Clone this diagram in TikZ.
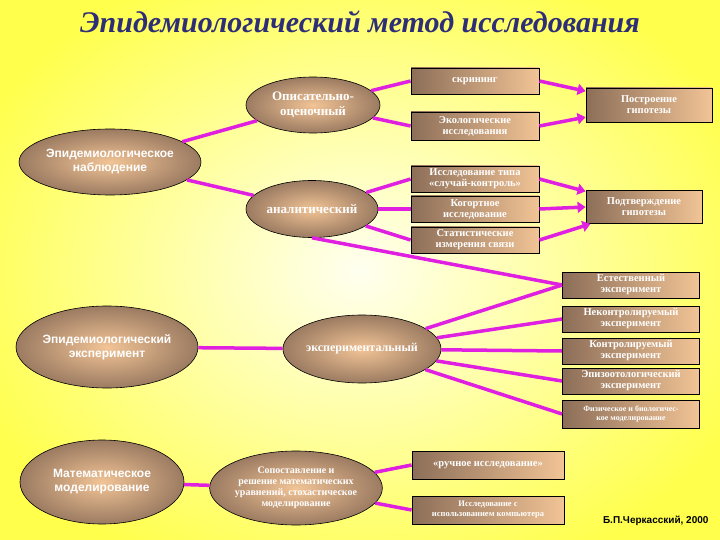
\documentclass[tikz,border=0pt]{standalone}
\usepackage{fontspec}
\setmainfont{Liberation Serif}
\newfontfamily\sansf{Liberation Sans}
\usetikzlibrary{shapes.geometric,arrows.meta}
\definecolor{mag}{HTML}{E020E0}
\definecolor{brd}{HTML}{8C6E58}
\definecolor{brl}{HTML}{F2C496}
\definecolor{ttl}{HTML}{2E2E78}
\tikzset{
 bx/.style={draw=black,line width=0.8pt,left color=brd,right color=brl,text=white,font=\bfseries\fontsize{10.5}{11}\selectfont,align=center,inner sep=1pt},
 el/.style={ellipse,draw=black,line width=0.6pt,inner color=brl,outer color=brd!85!brl,text=white,align=center,inner sep=0pt},
 lk/.style={mag,line width=3.5pt},
 ar/.style={lk,-{Triangle[length=8pt,width=11pt]}},
}
\begin{document}
\begin{tikzpicture}[x=1pt,y=-1pt]
\useasboundingbox (0,0) rectangle (720,540);
\shade[inner color=yellow!6!white,outer color=yellow!70!white] (-60,-60) rectangle (780,600);
\node[font=\fontsize{30}{30}\selectfont\bfseries\itshape,text=ttl] (title) at (360,22) {Эпидемиологический метод исследования};
% left ellipses
\node[el,minimum width=182,minimum height=66,font=\sansf\bfseries\fontsize{12}{14}\selectfont] (e1) at (110,162) {Эпидемиологическое\\наблюдение};
\node[el,minimum width=176,minimum height=82,font=\sansf\bfseries\fontsize{12}{14}\selectfont] (e2) at (107,347) {Эпидемиологический\\эксперимент};
\node[el,minimum width=164,minimum height=84,font=\sansf\bfseries\fontsize{12}{14}\selectfont] (e3) at (102,482) {Математическое\\моделирование};
% middle ellipses
\node[el,minimum width=134,minimum height=56,font=\bfseries\fontsize{13}{15}\selectfont] (desc) at (313,105) {Описательно-\\оценочный};
\node[el,minimum width=132,minimum height=57,font=\bfseries\fontsize{13}{15}\selectfont] (an) at (312,209) {аналитический};
\node[el,minimum width=142,minimum height=68,font=\bfseries\fontsize{12}{14}\selectfont] (ex) at (362,349) {экспериментальный};
\node[el,minimum width=166,minimum height=74,font=\bfseries\fontsize{10}{11}\selectfont] (mm) at (296,488) {Сопоставление и\\решение математических\\уравнений, стохастическое\\моделирование};
% boxes
\node[bx,minimum width=128,minimum height=26] (scr) at (475,81) {скрининг};
\node[bx,minimum width=128,minimum height=28] (eco) at (475,126) {Экологические\\исследования};
\node[bx,minimum width=126,minimum height=34] (hyp) at (649,105) {Построение\\гипотезы};
\node[bx,minimum width=128,minimum height=26] (cc) at (475,179) {Исследование типа\\«случай-контроль»};
\node[bx,minimum width=128,minimum height=26] (coh) at (475,209) {Когортное\\исследование};
\node[bx,minimum width=128,minimum height=26] (st) at (475,240) {Статистические\\измерения связи};
\node[bx,minimum width=116,minimum height=33] (conf) at (644,207) {Подтверждение\\гипотезы};
\node[bx,minimum width=137,minimum height=26] (x1) at (631,285) {Естественный\\эксперимент};
\node[bx,minimum width=137,minimum height=26] (x2) at (631,319) {Неконтролируемый\\эксперимент};
\node[bx,minimum width=137,minimum height=26] (x3) at (631,351) {Контролируемый\\эксперимент};
\node[bx,minimum width=137,minimum height=26] (x4) at (631,381) {Эпизоотологический\\эксперимент};
\node[bx,minimum width=137,minimum height=28,font=\bfseries\fontsize{8}{9.5}\selectfont] (x5) at (631,414) {Физическое и биологичес-\\кое моделирование};
\node[bx,minimum width=152,minimum height=28] (m1) at (488,465) {«ручное исследование»};
\node[bx,minimum width=152,minimum height=28,font=\bfseries\fontsize{8.5}{10}\selectfont] (m2) at (488,510) {Исследование с\\использованием компьютера};
\node[font=\sansf\bfseries\fontsize{10}{10}\selectfont,anchor=east] (sig) at (712,521) {Б.П.Черкасский, 2000};
% links
\draw[lk] (e1) -- (desc);
\draw[lk] (e1) -- (an);
\draw[lk] (desc) -- (scr.west);
\draw[lk] (desc) -- (eco.west);
\draw[ar] (scr.east) -- (hyp);
\draw[ar] (eco.east) -- (hyp);
\draw[lk] (an) -- (cc.west);
\draw[lk] (an) -- (coh.west);
\draw[lk] (an) -- (st.west);
\draw[ar] (cc.east) -- (conf);
\draw[ar] (coh.east) -- (conf.west);
\draw[ar] (st.east) -- (conf);
\draw[lk] (an.south) -- (x1.west);
\draw[lk] (e2) -- (ex);
\draw[lk] (ex) -- (x1.west);
\draw[lk] (ex) -- (x2.west);
\draw[lk] (ex) -- (x3.west);
\draw[lk] (ex) -- (x4.west);
\draw[lk] (ex) -- (x5.west);
\draw[lk] (e3) -- (mm);
\draw[lk] (mm) -- (m1.west);
\draw[lk] (mm) -- (m2.west);
\end{tikzpicture}
\end{document}
